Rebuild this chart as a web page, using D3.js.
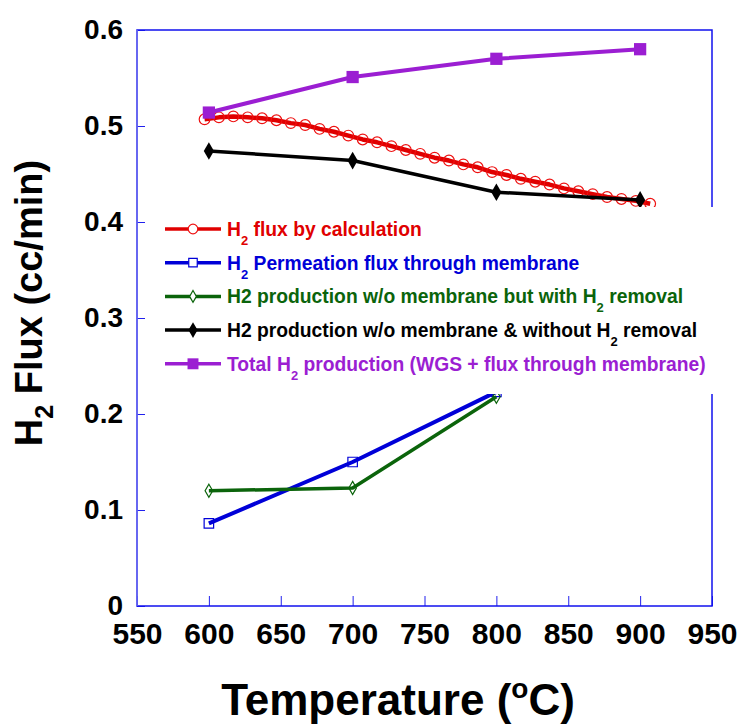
<!DOCTYPE html>
<html>
<head>
<meta charset="utf-8">
<script src="https://cdn.jsdelivr.net/npm/d3@7"></script>
<style>
  body { margin: 0; background: #fff; }
  svg { display: block; font-family: "Liberation Sans", Arial, sans-serif; font-weight: bold; }
</style>
</head>
<body>
<svg id="chart" width="741" height="727"></svg>
<script>
// 측정 온도 (°C)
var temps = [600, 700, 800, 900];
// 계산값 온도 (10도 간격)
var calcTemps = [597, 607, 617, 627, 637, 647, 657, 667, 677, 687, 697, 707, 717, 727, 737, 747,
                 757, 767, 777, 787, 797, 807, 817, 827, 837, 847, 857, 867, 877, 887, 897, 907];
var calcFlux = [0.507, 0.509, 0.510, 0.509, 0.508, 0.506, 0.503, 0.501, 0.497, 0.494, 0.490, 0.486,
                0.483, 0.479, 0.475, 0.471, 0.467, 0.464, 0.460, 0.457, 0.452, 0.449, 0.445, 0.442,
                0.439, 0.435, 0.432, 0.429, 0.426, 0.424, 0.422, 0.419];
var permTemps = [600, 700, 800];
var permFlux = [0.086, 0.150, 0.223];
var removalFlux = [0.120, 0.123, 0.218];
var noRemovalFlux = [0.474, 0.464, 0.431, 0.423];
var totalFlux = [0.514, 0.551, 0.570, 0.580];
var xTicks = [550, 600, 650, 700, 750, 800, 850, 900, 950];
var yTicks = [0, 0.1, 0.2, 0.3, 0.4, 0.5, 0.6];

var svg = d3.select("#chart");
var plotL = 137, plotR = 712, plotT = 30, plotB = 606;

var x = d3.scaleLinear().domain([550, 950]).range([plotL, plotR]);
var y = d3.scaleLinear().domain([0, 0.6]).range([plotB, plotT]);

// 시리즈 정의
var series = [
  { name: [["H", ""], ["2", "sub"], [" flux by calculation", ""]], color: "#e00000", mark: "#ee1111",
    xs: calcTemps, ys: calcFlux, width: 4.5, sym: d3.symbolCircle, size: 90, fill: "none" },
  { name: [["H", ""], ["2", "sub"], [" Permeation flux through membrane", ""]], color: "#0000d8", mark: "#0000d8",
    xs: permTemps, ys: permFlux, width: 4, sym: d3.symbolSquare, size: 90, fill: "none" },
  { name: [["H2 production w/o membrane but with H", ""], ["2", "sub"], [" removal", ""]], color: "#0b640b", mark: "#0b640b",
    xs: permTemps, ys: removalFlux, width: 3.5, sym: d3.symbolDiamond, size: 50, fill: "none" },
  { name: [["H2 production w/o membrane & without H", ""], ["2", "sub"], [" removal", ""]], color: "#000000", mark: "#000000",
    xs: temps, ys: noRemovalFlux, width: 3.5, sym: d3.symbolDiamond, size: 90, fill: "#000" },
  { name: [["Total H", ""], ["2", "sub"], [" production (WGS + flux through membrane)", ""]], color: "#9b1ed2", mark: "#9b1ed2",
    xs: temps, ys: totalFlux, width: 4, sym: d3.symbolSquare, size: 150, fill: "#9b1ed2" }
];

var line = d3.line().x(function(d){ return x(d[0]); }).y(function(d){ return y(d[1]); });

series.forEach(function(s){
  var pts = s.xs.map(function(t, i){ return [t, s.ys[i]]; });
  svg.append("path")
    .attr("d", line(pts))
    .attr("fill", "none")
    .attr("stroke", s.color)
    .attr("stroke-width", s.width)
    .attr("stroke-linejoin", "round");
  svg.selectAll(null).data(pts).enter().append("path")
    .attr("d", d3.symbol().type(s.sym).size(s.size))
    .attr("transform", function(d){ return "translate(" + x(d[0]) + "," + y(d[1]) + ")"; })
    .attr("fill", s.fill)
    .attr("stroke", s.mark)
    .attr("stroke-width", s.fill === "none" ? 1.2 : 0);
});

// 축
var yAxis = d3.axisLeft(y).tickValues(yTicks).tickSize(-8).tickPadding(14)
  .tickFormat(function(d){ return d === 0 ? "0" : d3.format(".1f")(d); });
var gy = svg.append("g").attr("transform", "translate(" + plotL + ",0)").call(yAxis);
gy.select(".domain").remove();
gy.selectAll("line").attr("stroke", "#2020ee");
gy.selectAll("text").attr("font-size", 28).attr("font-family", "Liberation Sans, Arial").attr("font-weight", "bold").attr("fill", "#000");

var xAxis = d3.axisBottom(x).tickValues(xTicks).tickSize(-10).tickPadding(17);
var gx = svg.append("g").attr("transform", "translate(0," + plotB + ")").call(xAxis);
gx.select(".domain").remove();
gx.selectAll("line").attr("stroke", "#2020ee");
gx.selectAll("text").attr("font-size", 30).attr("font-family", "Liberation Sans, Arial").attr("font-weight", "bold").attr("fill", "#000");

// 프레임
svg.append("rect")
  .attr("x", plotL).attr("y", plotT).attr("width", plotR - plotL).attr("height", plotB - plotT)
  .attr("fill", "none").attr("stroke", "#1010ee").attr("stroke-width", 1.5);
svg.append("line")
  .attr("x1", plotL).attr("x2", plotL).attr("y1", plotT).attr("y2", plotB)
  .attr("stroke", "#7070f0").attr("stroke-width", 1.5);

// 범례 (흰 배경이 선을 가림)
var lg = svg.append("g");
lg.append("rect").attr("x", 152).attr("y", 207).attr("width", 575).attr("height", 187).attr("fill", "#fff");
series.forEach(function(s, i){
  var cy = 229 + i * 33.7;
  lg.append("line").attr("x1", 165).attr("x2", 221).attr("y1", cy).attr("y2", cy)
    .attr("stroke", s.color).attr("stroke-width", 3.5);
  lg.append("path")
    .attr("d", d3.symbol().type(s.sym).size(s.size * 0.8))
    .attr("transform", "translate(193," + cy + ")")
    .attr("fill", s.fill === "none" ? "#fff" : s.fill)
    .attr("stroke", s.mark).attr("stroke-width", s.fill === "none" ? 1.2 : 0);
  var t = lg.append("text").attr("x", 227).attr("y", cy + 7).attr("font-size", 19.3).attr("fill", s.color);
  s.name.forEach(function(p, k){
    var ts = t.append("tspan").text(p[0]);
    if (p[1] === "sub") {
      ts.attr("font-size", 13).attr("dy", 9);
    } else if (k > 0) {
      ts.attr("dy", -9);
    }
  });
});

// 축 제목
svg.append("text")
  .attr("transform", "translate(42,303) rotate(-90)")
  .attr("text-anchor", "middle").attr("font-size", 38).attr("fill", "#000")
  .call(function(t){
    t.append("tspan").text("H");
    t.append("tspan").text("2").attr("font-size", 25).attr("dy", 11);
    t.append("tspan").text(" Flux (cc/min)").attr("dy", -11);
  });

svg.append("text")
  .attr("x", 398).attr("y", 715)
  .attr("text-anchor", "middle").attr("font-size", 44).attr("fill", "#000")
  .call(function(t){
    t.append("tspan").text("Temperature (");
    t.append("tspan").text("o").attr("font-size", 28).attr("dy", -17);
    t.append("tspan").text("C)").attr("dy", 17);
  });
</script>
</body>
</html>
